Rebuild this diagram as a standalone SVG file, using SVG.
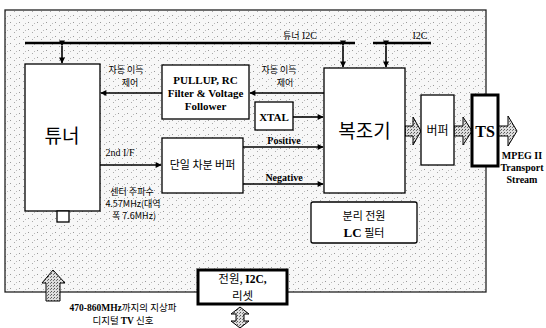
<svg xmlns="http://www.w3.org/2000/svg" width="546" height="328" viewBox="0 0 546 328">
<defs>
<pattern id="speck" width="9" height="7" patternUnits="userSpaceOnUse">
<rect width="9" height="7" fill="#f7f7f7"/>
<rect x="1" y="1" width="1" height="1" fill="#999"/>
<rect x="5" y="4" width="1" height="1" fill="#aaa"/>
<rect x="7" y="2" width="1" height="1" fill="#bbb"/>
</pattern>
<pattern id="hatch" width="3" height="3" patternUnits="userSpaceOnUse">
<rect width="3" height="3" fill="#ddd"/>
<rect x="0" y="0" width="1" height="1" fill="#555"/>
<rect x="2" y="1" width="1" height="1" fill="#777"/>
</pattern>
<marker id="ah" viewBox="0 0 10 10" refX="9" refY="5" markerWidth="8" markerHeight="6" orient="auto" markerUnits="userSpaceOnUse">
<path d="M0,0 L10,5 L0,10 Z" fill="#000"/>
</marker>
<marker id="as" viewBox="0 0 10 10" refX="1" refY="5" markerWidth="8" markerHeight="6" orient="auto-start-reverse" markerUnits="userSpaceOnUse">
<path d="M0,0 L10,5 L0,10 Z" fill="#000" transform="rotate(180 5 5)"/>
</marker>
</defs>
<style>
.box{fill:#fff;stroke:#000;stroke-width:1.3}
.thick{fill:#fff;stroke:#000;stroke-width:3}
.ko{font-family:"Noto Sans CJK KR","Noto Sans",sans-serif;fill:#000}
.en{font-family:"Liberation Serif",serif;font-weight:bold;fill:#000}
.rn{font-family:"Liberation Serif",serif;font-weight:normal;fill:#000}
.ln{stroke:#000;stroke-width:1.6;fill:none}
.fat{fill:url(#hatch);stroke:#000;stroke-width:1}
</style>
<rect width="546" height="328" fill="#fff"/>
<g id="board">
<rect x="5" y="10" width="481" height="282" fill="url(#speck)" stroke="#222" stroke-width="1.3"/>
</g>
<g id="connectors">
<line x1="25" y1="43" x2="355" y2="43" stroke="#000" stroke-width="2.5"/>
<line x1="373" y1="43" x2="431" y2="43" stroke="#000" stroke-width="2.5"/>
<line x1="62" y1="46" x2="62" y2="63" class="ln" marker-start="url(#as)" marker-end="url(#ah)"/>
<line x1="343" y1="46" x2="343" y2="67" class="ln" marker-start="url(#as)" marker-end="url(#ah)"/>
<line x1="386" y1="46" x2="386" y2="67" class="ln" marker-start="url(#as)" marker-end="url(#ah)"/>
<line x1="162" y1="93" x2="101" y2="93" class="ln" marker-end="url(#ah)"/>
<line x1="324" y1="93" x2="250" y2="93" class="ln" marker-end="url(#ah)"/>
<line x1="293" y1="117" x2="323" y2="117" class="ln" marker-end="url(#ah)"/>
<line x1="243" y1="147" x2="323" y2="147" class="ln" marker-end="url(#ah)"/>
<line x1="243" y1="184" x2="323" y2="184" class="ln" marker-end="url(#ah)"/>
<line x1="100" y1="165" x2="161" y2="165" class="ln" marker-end="url(#ah)"/>
<path class="fat" d="M405,126 H413 V117 L421,131 L413,145 V136 H405 Z"/>
<path class="fat" d="M454,126 H463 V117 L472,131 L463,145 V136 H454 Z"/>
<path class="fat" d="M498,126 H508 V116 L517,131 L508,146 V136 H498 Z"/>
<path class="fat" d="M46,301 V283 H42 L53,270 L65,283 H60 V301 Z"/>
<path class="fat" d="M231,314 L240,307 L249,314 H244 V321 H249 L240,328 L231,321 H236 V314 Z"/>
</g>
<g id="tuner">
<rect class="box" x="25" y="64" width="75" height="147"/>
<rect class="box" x="57" y="211" width="12" height="11"/>
<text class="ko" x="62" y="143" font-size="19" text-anchor="middle">튜너</text>
</g>
<g id="pullup">
<rect class="box" x="162" y="65" width="87" height="54"/>
<text class="en" font-size="11" text-anchor="middle"><tspan x="205.5" y="84">PULLUP, RC</tspan><tspan x="205.5" y="97">Filter &amp; Voltage</tspan><tspan x="205.5" y="110">Follower</tspan></text>
</g>
<g id="xtal">
<rect class="box" x="255" y="102" width="38" height="28"/>
<text class="en" x="274" y="121" font-size="11" text-anchor="middle">XTAL</text>
</g>
<g id="diffbuf">
<rect class="box" x="162" y="138" width="81" height="55"/>
<text class="ko" x="202.5" y="169" font-size="11" text-anchor="middle">단일 차분 버퍼</text>
</g>
<g id="demod">
<rect class="box" x="324" y="68" width="81" height="125"/>
<text class="ko" x="364.5" y="138" font-size="19" text-anchor="middle">복조기</text>
</g>
<g id="buffer">
<rect class="box" x="421" y="95" width="33" height="70"/>
<text class="ko" x="437.5" y="135" font-size="12" text-anchor="middle">버퍼</text>
</g>
<g id="ts">
<rect class="thick" x="472" y="95" width="26" height="71"/>
<text class="en" x="485" y="137" font-size="16" text-anchor="middle">TS</text>
</g>
<g id="lcfilter">
<rect class="box" x="311" y="202" width="106" height="41" rx="2"/>
<text class="ko" x="364" y="220" font-size="11" text-anchor="middle">분리 전원</text>
<text x="364" y="237" font-size="13" text-anchor="middle"><tspan class="en">LC</tspan><tspan class="ko" font-size="11"> 필터</tspan></text>
</g>
<g id="power">
<rect class="thick" x="198" y="270" width="89" height="34"/>
<text x="242.5" y="283" font-size="11.5" text-anchor="middle"><tspan class="ko">전원, </tspan><tspan class="en">I2C,</tspan></text>
<text class="ko" x="242.5" y="300" font-size="11.5" text-anchor="middle">리셋</text>
</g>
<g id="labels">
<text x="300" y="39" font-size="10" text-anchor="middle"><tspan class="ko" font-size="9">튜너</tspan><tspan class="rn"> I2C</tspan></text>
<text class="rn" x="420" y="39" font-size="10" text-anchor="middle">I2C</text>
<text class="ko" x="126" y="73" font-size="9" text-anchor="middle">자동 이득</text>
<text class="ko" x="130" y="86" font-size="9" text-anchor="middle">제어</text>
<text class="ko" x="279" y="73" font-size="9" text-anchor="middle">자동 이득</text>
<text class="ko" x="285" y="86" font-size="9" text-anchor="middle">제어</text>
<text class="en" x="284" y="144" font-size="10" text-anchor="middle">Positive</text>
<text class="en" x="284" y="181" font-size="10" text-anchor="middle">Negative</text>
<text class="rn" x="120" y="156" font-size="10" text-anchor="middle">2nd I/F</text>
<text class="ko" x="132" y="195" font-size="9" text-anchor="middle">센터 주파수</text>
<text class="ko" x="133" y="207" font-size="9" text-anchor="middle">4.57MHz(대역</text>
<text class="ko" x="134" y="219" font-size="9" text-anchor="middle">폭 7.6MHz)</text>
<text class="en" font-size="10" text-anchor="middle"><tspan x="522" y="159">MPEG II</tspan><tspan x="522" y="171">Transport</tspan><tspan x="522" y="183">Stream</tspan></text>
<text x="123" y="311" font-size="9.5" text-anchor="middle"><tspan class="en">470-860MHz</tspan><tspan class="ko">까지의 지상파</tspan></text>
<text x="123" y="324" font-size="9.5" text-anchor="middle"><tspan class="ko">디지털 </tspan><tspan class="en">TV</tspan><tspan class="ko"> 신호</tspan></text>
</g>
</svg>
